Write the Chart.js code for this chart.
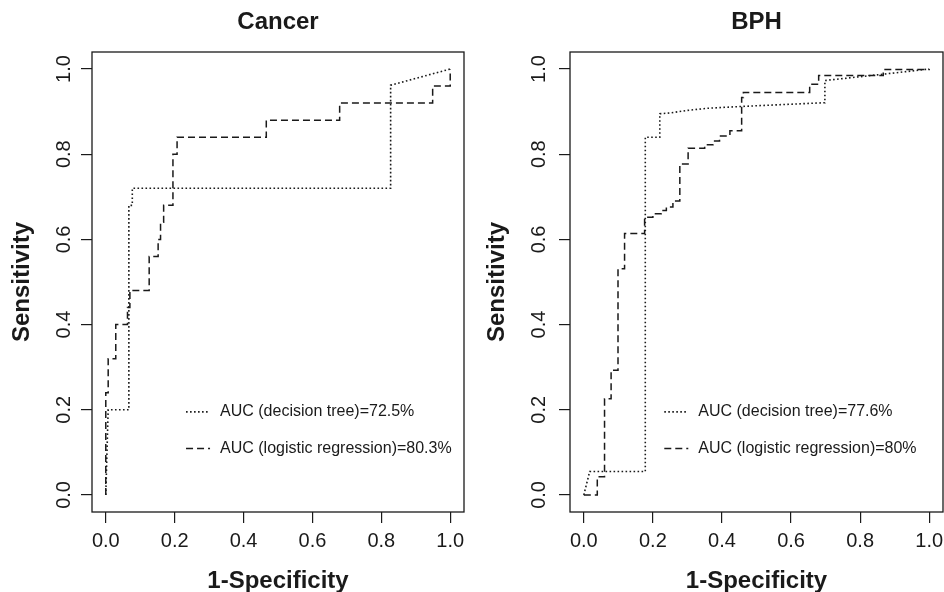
<!DOCTYPE html>
<html>
<head>
<meta charset="utf-8">
<script src="https://cdn.jsdelivr.net/npm/chart.js@4.4.1/dist/chart.umd.min.js"></script>
<style>
  html, body { margin: 0; padding: 0; background: #fff; overflow: hidden; }
  #wrap { position: relative; width: 944px; height: 592px; }
  canvas { position: absolute; top: 0; }
</style>
</head>
<body>
<div id="wrap">
  <canvas id="chartCancer" width="472" height="592" style="left:0"></canvas>
  <canvas id="chartBph" width="472" height="592" style="left:472px"></canvas>
</div>
<script>
const FONT = "'Liberation Sans', Arial, Helvetica, sans-serif";
const INK = '#1a1a1a';

const axisTicks = [0, 0.2, 0.4, 0.6, 0.8, 1.0];

// Cancer: decision tree (dotted)
const cancerTreeFpr = [0, 0.007, 0.067, 0.067, 0.077, 0.077, 0.827, 0.827, 1];
const cancerTreeTpr = [0, 0.2, 0.2, 0.68, 0.68, 0.72, 0.72, 0.962, 1];
// Cancer: logistic regression (dashed)
const cancerLogFpr = [0, 0, 0.007, 0.007, 0.029, 0.029, 0.063, 0.063, 0.07, 0.07, 0.126, 0.126, 0.152, 0.152, 0.159, 0.159, 0.168, 0.168, 0.195, 0.195, 0.207, 0.207, 0.466, 0.466, 0.679, 0.679, 0.949, 0.949, 1, 1];
const cancerLogTpr = [0, 0.24, 0.24, 0.32, 0.32, 0.40, 0.40, 0.44, 0.44, 0.48, 0.48, 0.56, 0.56, 0.60, 0.60, 0.64, 0.64, 0.68, 0.68, 0.80, 0.80, 0.84, 0.84, 0.88, 0.88, 0.92, 0.92, 0.96, 0.96, 1];
const cancerLabels = ['AUC (decision tree)=72.5%', 'AUC (logistic regression)=80.3%'];

// BPH: decision tree (dotted)
const bphTreeFpr = [0, 0.017, 0.178, 0.178, 0.22, 0.22, 0.25, 0.3, 0.36, 0.452, 0.698, 0.698, 0.868, 1];
const bphTreeTpr = [0, 0.055, 0.055, 0.84, 0.84, 0.895, 0.897, 0.903, 0.908, 0.912, 0.921, 0.973, 0.988, 1];
// BPH: logistic regression (dashed)
const bphLogFpr = [0, 0.039, 0.039, 0.06, 0.06, 0.079, 0.079, 0.099, 0.099, 0.118, 0.118, 0.176, 0.176, 0.2, 0.2, 0.224, 0.224, 0.239, 0.239, 0.258, 0.258, 0.278, 0.278, 0.302, 0.302, 0.35, 0.35, 0.374, 0.374, 0.393, 0.393, 0.423, 0.423, 0.457, 0.457, 0.462, 0.462, 0.654, 0.654, 0.68, 0.68, 0.867, 0.867, 1, 1];
const bphLogTpr = [0, 0, 0.043, 0.043, 0.226, 0.226, 0.293, 0.293, 0.531, 0.531, 0.614, 0.614, 0.652, 0.652, 0.66, 0.66, 0.668, 0.668, 0.676, 0.676, 0.69, 0.69, 0.777, 0.777, 0.814, 0.814, 0.822, 0.822, 0.831, 0.831, 0.843, 0.843, 0.855, 0.855, 0.933, 0.933, 0.945, 0.945, 0.964, 0.964, 0.985, 0.985, 0.999, 0.999, 1];
const bphLabels = ['AUC (decision tree)=77.6%', 'AUC (logistic regression)=80%'];

function toPoints(xs, ys) {
  return xs.map((x, i) => ({ x: x, y: ys[i] }));
}

// box round the plot area, like R's bty="o"
const frame = {
  id: 'frame',
  afterDraw(chart) {
    const a = chart.chartArea, ctx = chart.ctx;
    ctx.save();
    ctx.strokeStyle = INK;
    ctx.lineWidth = 1.3;
    ctx.strokeRect(a.left, a.top, a.right - a.left, a.bottom - a.top);
    ctx.restore();
  }
};

// legend inside the plot, placed in data units
const rocLegend = {
  id: 'rocLegend',
  afterDatasetsDraw(chart, args, opts) {
    const { ctx, scales } = chart;
    const x0 = scales.x.getPixelForValue(opts.x);
    ctx.save();
    ctx.font = '16px ' + FONT;
    ctx.fillStyle = INK;
    ctx.textBaseline = 'middle';
    ctx.textAlign = 'left';
    chart.data.datasets.forEach((ds, i) => {
      const y = scales.y.getPixelForValue(opts.rows[i]);
      ctx.beginPath();
      ctx.setLineDash(ds.borderDash);
      ctx.lineWidth = ds.borderWidth;
      ctx.strokeStyle = ds.borderColor;
      ctx.moveTo(x0, y);
      ctx.lineTo(x0 + 24, y);
      ctx.stroke();
      ctx.setLineDash([]);
      ctx.fillText(ds.label, x0 + 34, y);
    });
    ctx.restore();
  }
};

function makeChart(id, title, tree, logi, labels, lay) {
  const tickFont = { family: FONT, size: 20 };
  const titleFont = { family: FONT, size: 24, weight: 'bold', lineHeight: 0.9 };
  const setTicks = s => { s.ticks = axisTicks.map(v => ({ value: v })); };

  return new Chart(document.getElementById(id), {
    type: 'scatter',
    data: {
      datasets: [
        {
          label: labels[0],
          data: toPoints(tree[0], tree[1]),
          showLine: true,
          borderColor: INK,
          borderWidth: 1.6,
          borderDash: [1.6, 2.4],
          pointRadius: 0,
          tension: 0,
          fill: false
        },
        {
          label: labels[1],
          data: toPoints(logi[0], logi[1]),
          showLine: true,
          borderColor: INK,
          borderWidth: 1.5,
          borderDash: [7, 4],
          pointRadius: 0,
          tension: 0,
          fill: false
        }
      ]
    },
    options: {
      responsive: false,
      animation: false,
      events: [],
      layout: { padding: { left: 0, right: lay.rightPad, top: 0, bottom: 0 } },
      scales: {
        x: {
          type: 'linear',
          min: -0.04,
          max: 1.04,
          afterBuildTicks: setTicks,
          afterFit: s => { s.height = 80; s.paddingLeft = 0; s.paddingRight = 0; },
          border: { display: false },
          grid: { drawOnChartArea: false, tickLength: 11, color: INK, lineWidth: 1.2 },
          ticks: {
            minRotation: 0, maxRotation: 0, padding: 6,
            font: tickFont, color: INK,
            callback: v => v.toFixed(1)
          },
          title: { display: true, text: '1-Specificity', font: titleFont, color: INK, padding: { top: 0, bottom: 0 } }
        },
        y: {
          type: 'linear',
          min: -0.04,
          max: 1.04,
          afterBuildTicks: setTicks,
          afterFit: s => { s.width = lay.yWidth; s.paddingTop = 0; s.paddingBottom = 0; },
          border: { display: false },
          grid: { drawOnChartArea: false, tickLength: 11, color: INK, lineWidth: 1.2 },
          ticks: {
            minRotation: 90, maxRotation: 90, crossAlign: 'center', padding: lay.yTickPad,
            font: tickFont, color: INK,
            callback: v => v.toFixed(1)
          },
          title: { display: true, text: 'Sensitivity', font: titleFont, color: INK, padding: { top: lay.yTitlePad, bottom: 0 } }
        }
      },
      plugins: {
        legend: { display: false },
        tooltip: { enabled: false },
        title: {
          display: true,
          text: title,
          fullSize: false,
          color: INK,
          font: { family: FONT, size: 24, weight: 'bold' },
          padding: { top: 8, bottom: 15.2 }
        },
        rocLegend: { x: 0.233, rows: [0.195, 0.109] }
      }
    },
    plugins: [frame, rocLegend]
  });
}

makeChart('chartCancer', 'Cancer',
  [cancerTreeFpr, cancerTreeTpr], [cancerLogFpr, cancerLogTpr], cancerLabels,
  { yWidth: 92, rightPad: 8, yTickPad: 3, yTitlePad: 11.7 });

makeChart('chartBph', 'BPH',
  [bphTreeFpr, bphTreeTpr], [bphLogFpr, bphLogTpr], bphLabels,
  { yWidth: 98, rightPad: 1, yTickPad: 6, yTitlePad: 14.2 });
</script>
</body>
</html>
